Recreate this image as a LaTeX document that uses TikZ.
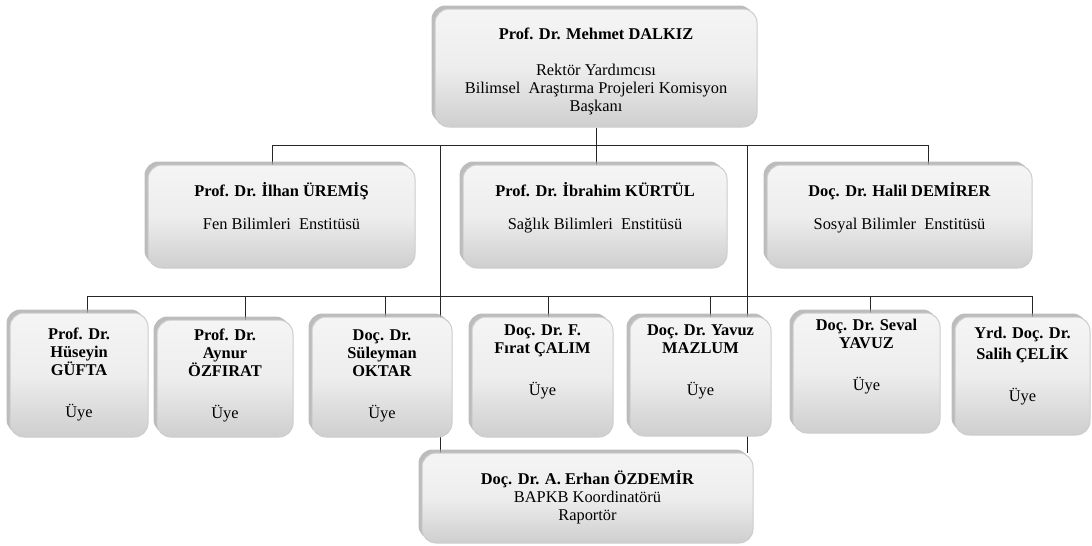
\documentclass[tikz,border=0pt]{standalone}
\usepackage{fontspec}
\setmainfont{Liberation Serif}
\usetikzlibrary{shadows,calc}
\pgfdeclarelayer{bg}
\pgfsetlayers{bg,main}
\newcommand\bxt[4]{\parbox[c][#2][t]{#1}{\centering\vspace*{#3}\strut#4\par}}
\tikzset{
  box/.style={rounded corners=14pt, draw=gray!40, line width=1pt,
    top color=gray!8, bottom color=gray!38, middle color=gray!14, inner sep=0pt,
    font=\fontsize{16.4}{18}\selectfont,
    drop shadow={shadow xshift=-3.5pt,shadow yshift=3.5pt,fill=gray!70,opacity=.75}},
  conn/.style={draw=black!85, line width=0.9pt}
}
\begin{document}
\begin{tikzpicture}[x=1pt,y=-1pt]
\useasboundingbox (0,0) rectangle (1092,546);
% top
\node[box] (top) at (596,68) {\bxt{322pt}{118pt}{18pt}{\textbf{Prof. Dr. Mehmet DALKIZ}\\[18pt]Rektör Yardımcısı\\Bilimsel\ \ Araştırma Projeleri Komisyon\\Başkanı}};
% level 2
\node[box] (ilhan) at (281.5,216.5) {\bxt{267pt}{103pt}{17pt}{\textbf{Prof. Dr. İlhan ÜREMİŞ}\\[15pt]Fen Bilimleri\ \ Enstitüsü}};
\node[box] (ibrahim) at (595,216.5) {\bxt{264pt}{103pt}{17pt}{\textbf{Prof. Dr. İbrahim KÜRTÜL}\\[15pt]Sağlık Bilimleri\ \ Enstitüsü}};
\node[box] (halil) at (899.5,216.5) {\bxt{265pt}{103pt}{17pt}{\textbf{Doç. Dr. Halil DEMİRER}\\[15pt]Sosyal Bilimler\ \ Enstitüsü}};
% level 3
\node[box] (huseyin) at (79,375) {\bxt{138pt}{124pt}{14pt}{\textbf{Prof. Dr.}\\\textbf{Hüseyin}\\\textbf{GÜFTA}\\[24pt]Üye}};
\node[box] (aynur) at (225,378.5) {\bxt{136pt}{117pt}{8pt}{\textbf{Prof. Dr.}\\\textbf{Aynur}\\\textbf{ÖZFIRAT}\\[24pt]Üye}};
\node[box] (suleyman) at (382,377) {\bxt{140pt}{120pt}{11pt}{\textbf{Doç. Dr.}\\\textbf{Süleyman}\\\textbf{OKTAR}\\[24pt]Üye}};
\node[box] (firat) at (542.5,377) {\bxt{141pt}{120pt}{6pt}{\textbf{Doç. Dr. F.}\\\textbf{Fırat ÇALIM}\\[24pt]Üye}};
\node[box] (yavuz) at (700.5,376.5) {\bxt{141pt}{119pt}{6pt}{\textbf{Doç. Dr. Yavuz}\\\textbf{MAZLUM}\\[24pt]Üye}};
\node[box] (seval) at (866.5,373) {\bxt{147pt}{120pt}{5pt}{\textbf{Doç. Dr. Seval}\\\textbf{YAVUZ}\\[24pt]Üye}};
\node[box] (salih) at (1022.5,376) {\bxt{135pt}{118pt}{9pt}{\textbf{Yrd. Doç. Dr.}\\\textbf{Salih ÇELİK}\\[24pt]Üye}};
% bottom
\node[box] (ozdemir) at (587.5,498) {\bxt{331pt}{90pt}{17pt}{\textbf{Doç. Dr. A. Erhan ÖZDEMİR}\\BAPKB Koordinatörü\\Raportör}};
% connectors
\begin{pgfonlayer}{bg}
\coordinate (t1L) at (272,145);
\coordinate (t1R) at (928,145);
\coordinate (v1) at (440,145);
\coordinate (v2) at (747,145);
\coordinate (b2L) at (87,296);
\coordinate (b2R) at (1032,296);
\coordinate (d2) at (245,296);
\coordinate (d3) at (385,296);
\coordinate (d4) at (548,296);
\coordinate (d5) at (710,296);
\coordinate (d6) at (870,296);
\draw[conn] (t1L) -- (t1R);
\draw[conn] (top.south) -- (top.south |- ibrahim.north);
\draw[conn] (t1L) -- (t1L |- ilhan.north);
\draw[conn] (t1R) -- (t1R |- halil.north);
\draw[conn] (v1) -- (v1 |- ozdemir.north);
\draw[conn] (v2) -- (v2 |- ozdemir.north);
\draw[conn] (b2L) -- (b2R);
\draw[conn] (b2L) -- (b2L |- huseyin.north);
\draw[conn] (d2) -- (d2 |- aynur.north);
\draw[conn] (d3) -- (d3 |- suleyman.north);
\draw[conn] (d4) -- (d4 |- firat.north);
\draw[conn] (d5) -- (d5 |- yavuz.north);
\draw[conn] (d6) -- (d6 |- seval.north);
\draw[conn] (b2R) -- (b2R |- salih.north);
\end{pgfonlayer}
\end{tikzpicture}
\end{document}
